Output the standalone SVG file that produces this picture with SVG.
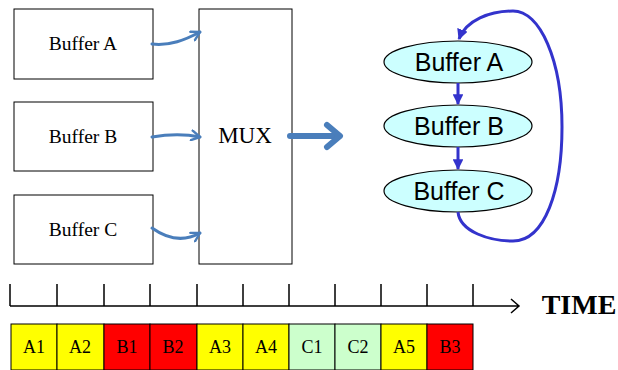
<svg xmlns="http://www.w3.org/2000/svg" width="618" height="370" viewBox="0 0 618 370">
  <style>
    .box { fill: #ffffff; stroke: #000000; stroke-width: 1; }
    .serif { font-family: "Liberation Serif", "Times New Roman", serif; fill: #000000; text-anchor: middle; }
    .sans { font-family: "Liberation Sans", Arial, sans-serif; fill: #000000; text-anchor: middle; }
    .feed { fill: none; stroke: #4a7ebb; stroke-width: 3; stroke-linecap: round; }
    .ring { fill: #ccffff; stroke: #000000; stroke-width: 1.2; }
    .cycle { fill: none; stroke: #3333cc; stroke-width: 3; }
    .axis { fill: none; stroke: #000000; stroke-width: 1.5; }
    .cell { stroke: #000000; stroke-width: 1; }
    .ya { fill: #ffff00; }
    .rb { fill: #ff0000; }
    .gc { fill: #ccffcc; }
  </style>
  <defs>
    <marker id="chev" viewBox="0 0 10 10" refX="8" refY="5" markerWidth="4" markerHeight="4" orient="auto" markerUnits="strokeWidth">
      <path d="M1,1 L8,5 L1,9" fill="none" stroke="#4a7ebb" stroke-width="2" stroke-linecap="round" stroke-linejoin="round"/>
    </marker>
    <marker id="tri" viewBox="0 0 10 10" refX="9" refY="5" markerWidth="3.6" markerHeight="3.6" orient="auto" markerUnits="strokeWidth">
      <path d="M0,0 L10,5 L0,10 Z" fill="#3333cc"/>
    </marker>
  </defs>

  <!-- input buffers -->
  <g id="buffer-a">
    <rect class="box" x="14" y="9" width="139" height="70"/>
    <text class="serif" x="83" y="50" font-size="19.5">Buffer A</text>
  </g>
  <g id="buffer-b">
    <rect class="box" x="14" y="102" width="139" height="69"/>
    <text class="serif" x="83" y="143" font-size="19.5">Buffer B</text>
  </g>
  <g id="buffer-c">
    <rect class="box" x="14" y="195" width="139" height="69"/>
    <text class="serif" x="83" y="236" font-size="19.5">Buffer C</text>
  </g>
  <g id="mux">
    <rect class="box" x="199" y="9" width="93" height="255"/>
    <text class="serif" x="245" y="143" font-size="23">MUX</text>
  </g>

  <!-- round-robin ring -->
  <g id="ring-a">
    <ellipse class="ring" cx="458" cy="62" rx="74" ry="21"/>
    <text class="sans" x="459" y="71" font-size="25">Buffer A</text>
  </g>
  <g id="ring-b">
    <ellipse class="ring" cx="458" cy="126" rx="74" ry="21"/>
    <text class="sans" x="459" y="135" font-size="25">Buffer B</text>
  </g>
  <g id="ring-c">
    <ellipse class="ring" cx="458" cy="191" rx="74" ry="21"/>
    <text class="sans" x="459" y="200" font-size="25">Buffer C</text>
  </g>

  <!-- connectors -->
  <g id="connectors">
    <path class="feed" d="M152,44 C170,46 185,40 200,32" marker-end="url(#chev)"/>
    <path class="feed" d="M152,137 C170,134 185,134 200,137" marker-end="url(#chev)"/>
    <path class="feed" d="M152,228 C166,238 182,243 200,233" marker-end="url(#chev)"/>
    <path d="M290,136 L339,136" fill="none" stroke="#4a7ebb" stroke-width="6" stroke-linecap="round"/>
    <path d="M327,125 L340,136 L327,147" fill="none" stroke="#4a7ebb" stroke-width="6" stroke-linecap="round" stroke-linejoin="round"/>
    <path class="cycle" d="M458,83 L458,104" marker-end="url(#tri)"/>
    <path class="cycle" d="M458,147 L458,169" marker-end="url(#tri)"/>
    <path class="cycle" d="M458,212 C460,232 490,241 513,241 C545,241 562,190 562,127 C562,60 540,11 513,11 C490,11 466,20 459,39" marker-end="url(#tri)"/>
  </g>

  <!-- time axis -->
  <g id="time-axis">
    <path class="axis" d="M10,306 L519,306 M511,299 L519,306 L511,313"/>
    <path class="axis" d="M10,284 V306 M57,284 V306 M104,284 V306 M150,284 V306 M197,284 V306 M243,284 V306 M289,284 V306 M335,284 V306 M381,284 V306 M427,284 V306 M473,284 V306"/>
    <text x="579" y="314" font-family="Liberation Serif, 'Times New Roman', serif" font-weight="bold" font-size="28" text-anchor="middle">TIME</text>
  </g>

  <!-- transmission slots -->
  <g id="slots">
    <rect class="cell ya" x="11" y="324" width="46" height="46"/>
    <rect class="cell ya" x="57" y="324" width="47" height="46"/>
    <rect class="cell rb" x="104" y="324" width="46" height="46"/>
    <rect class="cell rb" x="150" y="324" width="47" height="46"/>
    <rect class="cell ya" x="197" y="324" width="46" height="46"/>
    <rect class="cell ya" x="243" y="324" width="46" height="46"/>
    <rect class="cell gc" x="289" y="324" width="46" height="46"/>
    <rect class="cell gc" x="335" y="324" width="46" height="46"/>
    <rect class="cell ya" x="381" y="324" width="46" height="46"/>
    <rect class="cell rb" x="427" y="324" width="46" height="46"/>
    <g class="serif" font-size="18">
      <text x="34" y="353">A1</text>
      <text x="80" y="353">A2</text>
      <text x="127" y="353">B1</text>
      <text x="173" y="353">B2</text>
      <text x="220" y="353">A3</text>
      <text x="266" y="353">A4</text>
      <text x="312" y="353">C1</text>
      <text x="358" y="353">C2</text>
      <text x="404" y="353">A5</text>
      <text x="450" y="353">B3</text>
    </g>
  </g>
</svg>
